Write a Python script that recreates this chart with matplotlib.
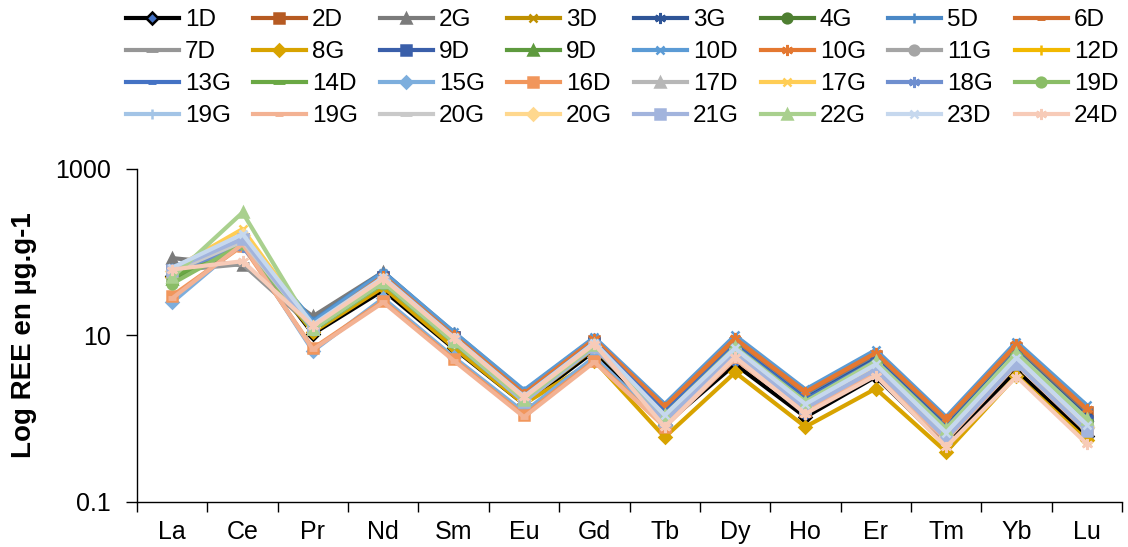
import numpy as np
import matplotlib.pyplot as plt

plt.rcParams['font.family'] = ['Liberation Sans', 'DejaVu Sans']

elements = ['La', 'Ce', 'Pr', 'Nd', 'Sm', 'Eu', 'Gd', 'Tb', 'Dy', 'Ho', 'Er', 'Tm', 'Yb', 'Lu']

# REE concentrations (ug/g)
r_1D   = [52, 130, 10.5, 35, 7.0, 1.5, 6.5, 0.85, 4.5, 1.05, 3.2, 0.48, 3.8, 0.62]
r_2D   = [62, 145, 13, 50, 9.5, 1.9, 8.5, 1.3, 8.2, 1.9, 5.6, 0.9, 7.0, 1.2]
r_2G   = [85, 70, 17, 58, 10.5, 2.0, 8.8, 1.3, 8.0, 1.8, 5.3, 0.82, 6.5, 1.1]
r_3D   = [58, 135, 11.5, 40, 8.0, 1.6, 7.0, 1.0, 6.0, 1.35, 4.0, 0.62, 5.0, 0.8]
r_3G   = [60, 140, 13.5, 52, 9.8, 1.9, 8.5, 1.25, 7.8, 1.75, 5.2, 0.8, 6.3, 1.05]
r_4G   = [45, 120, 12, 45, 8.8, 1.75, 8.0, 1.15, 7.2, 1.6, 4.8, 0.74, 5.8, 0.95]
r_5D   = [65, 150, 15, 58, 11, 2.15, 9.3, 1.4, 8.8, 2.0, 6.0, 0.95, 7.5, 1.3]
r_6D   = [55, 140, 13.5, 52, 10, 2.0, 9.0, 1.4, 9.0, 2.05, 6.1, 0.97, 7.7, 1.3]
r_7D   = [60, 72, 12.5, 45, 8.8, 1.7, 7.6, 1.1, 7.0, 1.55, 4.6, 0.7, 5.6, 0.9]
r_8G   = [50, 125, 11, 38, 7.2, 1.5, 5.0, 0.6, 3.6, 0.8, 2.3, 0.4, 3.3, 0.55]
r_9D_a = [62, 145, 13.5, 50, 9.5, 1.85, 8.2, 1.15, 7.2, 1.6, 4.8, 0.74, 5.8, 0.95]
r_9D_b = [48, 130, 12, 44, 8.5, 1.7, 7.6, 1.1, 7.0, 1.55, 4.6, 0.72, 5.7, 0.92]
r_10D  = [65, 155, 14.5, 57, 11, 2.2, 9.5, 1.5, 10, 2.25, 6.7, 1.05, 8.4, 1.45]
r_10G  = [58, 140, 13, 52, 10, 2.0, 9.0, 1.4, 9.2, 2.1, 6.2, 0.98, 7.8, 1.3]
r_11G  = [60, 135, 12.5, 47, 9.0, 1.8, 7.8, 1.1, 7.0, 1.55, 4.6, 0.7, 5.6, 0.9]
r_12D  = [58, 145, 12, 44, 8.6, 1.7, 7.5, 1.05, 6.6, 1.45, 4.3, 0.66, 5.3, 0.85]
r_13G  = [62, 135, 13, 50, 9.5, 1.85, 8.3, 1.2, 7.5, 1.7, 5.0, 0.78, 6.1, 1.0]
r_14D  = [50, 130, 12, 45, 8.7, 1.7, 7.7, 1.1, 7.1, 1.6, 4.7, 0.73, 5.8, 0.95]
r_15G  = [25, 130, 6.5, 28, 5.5, 1.2, 5.5, 0.85, 5.5, 1.3, 4.0, 0.6, 5.0, 0.8]
r_16D  = [30, 120, 7.0, 26, 5.2, 1.1, 5.0, 0.8, 5.5, 1.25, 3.8, 0.58, 4.8, 0.75]
r_17D  = [58, 140, 12.5, 46, 8.8, 1.75, 7.8, 1.1, 7.0, 1.55, 4.6, 0.7, 5.6, 0.9]
r_17G  = [62, 190, 13, 45, 8.5, 1.65, 7.4, 1.05, 6.5, 1.45, 4.4, 0.66, 5.3, 0.85]
r_18G  = [60, 115, 12.5, 46, 9.0, 1.75, 7.9, 1.05, 6.8, 1.5, 4.4, 0.66, 5.2, 0.8]
r_19D  = [42, 125, 11.5, 42, 8.2, 1.6, 7.4, 1.05, 6.8, 1.5, 4.6, 0.7, 5.7, 0.88]
r_19G_a = [60, 150, 13, 48, 9.0, 1.75, 7.8, 1.05, 6.6, 1.45, 4.4, 0.68, 5.3, 0.85]
r_19G_b = [28, 125, 6.8, 25, 5.0, 1.05, 4.8, 0.8, 5.2, 1.2, 3.6, 0.55, 4.5, 0.7]
r_20G_a = [58, 135, 12, 45, 8.6, 1.7, 7.6, 1.05, 6.6, 1.45, 4.3, 0.66, 5.3, 0.85]
r_20G_b = [60, 160, 12.5, 46, 8.7, 1.7, 7.5, 1.0, 6.3, 1.4, 4.2, 0.62, 5.0, 0.8]
r_21G  = [62, 145, 12, 44, 8.5, 1.6, 7.2, 0.95, 6.0, 1.35, 3.9, 0.58, 4.6, 0.72]
r_22G  = [50, 300, 12, 44, 8.5, 1.7, 7.6, 1.1, 7.2, 1.6, 4.9, 0.76, 6.2, 1.0]
r_23D  = [65, 165, 13.5, 50, 9.5, 1.85, 8.2, 1.1, 7.0, 1.5, 4.5, 0.68, 5.4, 0.85]
r_24D  = [62, 78, 13, 48, 9.3, 1.8, 7.9, 0.8, 5.5, 1.15, 3.3, 0.46, 3.2, 0.5]

samples = ['1D', '2D', '2G', '3D', '3G', '4G', '5D', '6D',
           '7D', '8G', '9D', '9D', '10D', '10G', '11G', '12D',
           '13G', '14D', '15G', '16D', '17D', '17G', '18G', '19D',
           '19G', '19G', '20G', '20G', '21G', '22G', '23D', '24D']
series = [r_1D, r_2D, r_2G, r_3D, r_3G, r_4G, r_5D, r_6D,
          r_7D, r_8G, r_9D_a, r_9D_b, r_10D, r_10G, r_11G, r_12D,
          r_13G, r_14D, r_15G, r_16D, r_17D, r_17G, r_18G, r_19D,
          r_19G_a, r_19G_b, r_20G_a, r_20G_b, r_21G, r_22G, r_23D, r_24D]

colors = ['#000000', '#B65A22', '#7B7B7B', '#BF9000', '#2F5597', '#4E7F31', '#4A88C6', '#D26C2A',
          '#969696', '#D8A300', '#3A5FAA', '#5E9A3E', '#5B9BD5', '#E47831', '#A5A5A5', '#F2B800',
          '#4472C4', '#6AA844', '#7DAEDD', '#F1965C', '#B7B7B7', '#FFCD55', '#6F8FCF', '#8ABD66',
          '#A3C4E6', '#F3B293', '#C9C9C9', '#FFD88E', '#A2B4DD', '#A9D08E', '#C6D8EE', '#F7CBB8']

# excel style marker cycle: diamond, square, triangle, x, star, circle, plus, dash, long dash
marker_cycle = [('D', 6), ('s', 7), ('^', 7), ('x', 6), ((6, 2, 0), 8), ('o', 7), ('+', 7), ('_', 6), ('_', 9)]

fig = plt.figure(figsize=(11.28, 5.47), dpi=100)
ax = fig.add_axes([0.1215, 0.0823, 0.8732, 0.6088])

x = np.arange(len(elements))
handles = []
for i, (lab, vals, col) in enumerate(zip(samples, series, colors)):
    mk, ms = marker_cycle[i % 9]
    mfc = '#4472C4' if i == 0 else col
    h, = ax.plot(x, vals, color=col, lw=3, marker=mk, ms=ms, mfc=mfc, mec=col,
                 mew=3.5 if mk == '_' else 1.8, label=lab)
    handles.append(h)

ax.set_yscale('log')
ax.set_ylim(0.1, 1000)
ax.set_yticks([0.1, 10, 1000])
ax.set_yticklabels(['0.1', '10', '1000'])
ax.yaxis.set_minor_locator(plt.NullLocator())
ax.set_xlim(-0.5, len(elements) - 0.5)
ax.set_xticks(x)
ax.set_xticklabels(elements)
ax.set_xticks(np.arange(len(elements) + 1) - 0.5, minor=True)
ax.tick_params(axis='x', which='major', length=0, pad=13, labelsize=18)
ax.tick_params(axis='x', which='minor', length=7, width=1)
ax.tick_params(axis='y', which='major', length=8, width=1, pad=11, labelsize=18)
for s in ['top', 'right']:
    ax.spines[s].set_visible(False)
for s in ['left', 'bottom']:
    ax.spines[s].set_linewidth(1)

ax.set_ylabel('Log REE en µg.g-1', fontsize=20, fontweight='bold', labelpad=13)

# legend reads row by row, matplotlib fills columns first
ncol = 8
order = [r * ncol + c for c in range(ncol) for r in range(len(handles) // ncol)]
fig.legend([handles[k] for k in order], [samples[k] for k in order],
           loc='upper left', bbox_to_anchor=(0.1117, 0.983), ncol=ncol, frameon=False,
           fontsize=17.5, handlelength=2.18, handletextpad=0.25, columnspacing=0.9,
           labelspacing=0.41, borderpad=0.0, borderaxespad=0.0)

fig.savefig('out.png', dpi=100)
